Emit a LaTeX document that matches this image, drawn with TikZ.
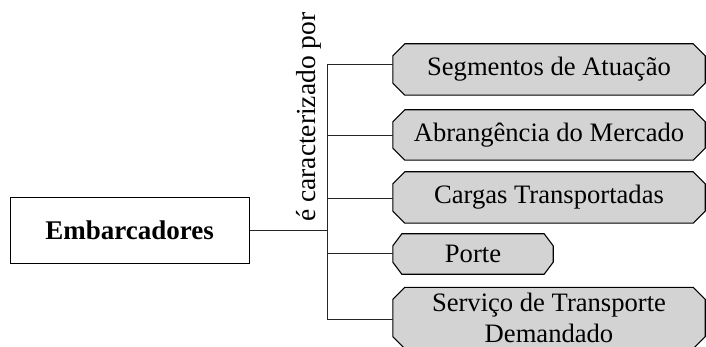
\documentclass[tikz,border=0pt]{standalone}
\usepackage{fontspec}
\setmainfont{Liberation Serif}
\usetikzlibrary{backgrounds}
\definecolor{boxgray}{RGB}{211,211,211}

\begin{document}
\begin{tikzpicture}[x=1pt, y=-1pt,
    feature/.style={rectangle, inner sep=0pt, align=center,
        font=\fontsize{26.6}{31}\selectfont},
    chamfer/.style={draw, line width=1.1pt, fill=boxgray, line join=miter},
    link/.style={line width=0.9pt, draw=black!85}]
    \useasboundingbox (0,0) rectangle (706,347);
    \clip (0,0) rectangle (706,347);

    \node[draw, line width=1pt, minimum width=239pt, minimum height=65pt,
        font=\fontsize{27}{32}\selectfont\bfseries] (emb) at (129.5,230.5) {Embarcadores};

    \node[rotate=90, anchor=base west, inner sep=0pt,
        font=\fontsize{27.5}{32}\selectfont] (lbl) at (315,222) {é caracterizado por};

    \node[feature, minimum width=312pt, minimum height=51pt] (seg) at (549,69.5) {Segmentos de Atuação};
    \node[feature, minimum width=312pt, minimum height=50pt] (abr) at (549,135) {Abrangência do Mercado};
    \node[feature, minimum width=312pt, minimum height=51pt] (car) at (549,197.5) {Cargas Transportadas};
    \node[feature, minimum width=160pt, minimum height=40pt] (por) at (473,254) {Porte};
    \node[feature, minimum width=312pt, minimum height=61pt] (ser) at (549,318) {Serviço de Transporte\\Demandado};

    % chamfered outlines behind the texts
    \begin{scope}[on background layer]
        \foreach \n/\c in {seg/12,abr/12,car/12,por/9,ser/12}
            \draw[chamfer] ([xshift=\c pt]\n.north west) -- ([xshift=-\c pt]\n.north east)
                -- ([yshift=-12pt]\n.north east) -- ([yshift=12pt]\n.south east)
                -- ([xshift=-\c pt]\n.south east) -- ([xshift=\c pt]\n.south west)
                -- ([yshift=12pt]\n.south west) -- ([yshift=-12pt]\n.north west) -- cycle;
    \end{scope}

    \coordinate (b1) at (327,64);
    \coordinate (b2) at (327,135);
    \coordinate (b3) at (327,198);
    \coordinate (b4) at (327,253);
    \coordinate (b5) at (327,319);

    \draw[link] (emb.east) -- (emb.east -| b1);
    \draw[link] (b1) -- (b5);
    \draw[link] (b1) -- (b1 -| seg.west);
    \draw[link] (b2) -- (b2 -| abr.west);
    \draw[link] (b3) -- (b3 -| car.west);
    \draw[link] (b4) -- (b4 -| por.west);
    \draw[link] (b5) -- (b5 -| ser.west);
\end{tikzpicture}
\end{document}
